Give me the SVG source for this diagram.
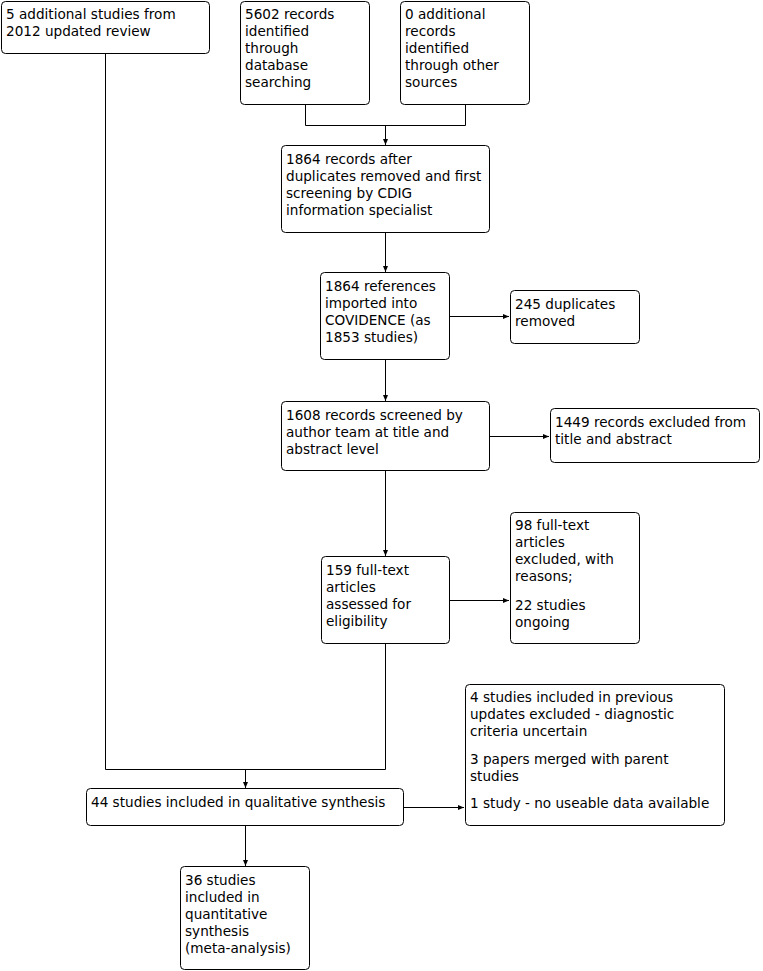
<svg xmlns="http://www.w3.org/2000/svg" width="763" height="971" viewBox="0 0 763 971">
<style>
rect{fill:#fff;stroke:#000;stroke-width:1}
text{font-family:"DejaVu Sans",Verdana,sans-serif;font-size:13.6px;fill:#000}
.c{fill:none;stroke:#000;stroke-width:1}
</style>
<defs>
<marker id="ah" markerUnits="userSpaceOnUse" markerWidth="7" markerHeight="6" refX="6" refY="2.5" orient="auto">
<path d="M0,0 L6,2.5 L0,5 z" fill="#000"/>
</marker>
</defs>
<g id="connectors">
<path class="c" d="M305.5,104 V125.5 H465.5 V104"/>
<path class="c" d="M385.5,125.5 V145" marker-end="url(#ah)"/>
<path class="c" d="M385.5,232 V272" marker-end="url(#ah)"/>
<path class="c" d="M449,316.5 H509" marker-end="url(#ah)"/>
<path class="c" d="M385.5,360 V401" marker-end="url(#ah)"/>
<path class="c" d="M489,436.5 H549" marker-end="url(#ah)"/>
<path class="c" d="M385.5,471 V556" marker-end="url(#ah)"/>
<path class="c" d="M449,600.5 H509" marker-end="url(#ah)"/>
<path class="c" d="M385.5,643 V769.5 H105.5 V53"/>
<path class="c" d="M245.5,769.5 V788" marker-end="url(#ah)"/>
<path class="c" d="M403,807.5 H464" marker-end="url(#ah)"/>
<path class="c" d="M245.5,825 V866" marker-end="url(#ah)"/>
</g>
<g id="nA"><rect x="1.5" y="1.5" width="208" height="52" rx="4"/>
<text x="6" y="19"><tspan x="6">5 additional studies from</tspan><tspan x="6" dy="17">2012 updated review</tspan></text></g>
<g id="nB"><rect x="240.5" y="1.5" width="129" height="103" rx="4"/>
<text x="245" y="19"><tspan x="245">5602 records</tspan><tspan x="245" dy="17">identified</tspan><tspan x="245" dy="17">through</tspan><tspan x="245" dy="17">database</tspan><tspan x="245" dy="17">searching</tspan></text></g>
<g id="nC"><rect x="400.5" y="1.5" width="129" height="103" rx="4"/>
<text x="405" y="19"><tspan x="405">0 additional</tspan><tspan x="405" dy="17">records</tspan><tspan x="405" dy="17">identified</tspan><tspan x="405" dy="17">through other</tspan><tspan x="405" dy="17">sources</tspan></text></g>
<g id="nD"><rect x="281.5" y="145.5" width="208" height="87" rx="4"/>
<text x="286" y="163.5"><tspan x="286">1864 records after</tspan><tspan x="286" dy="17">duplicates removed and first</tspan><tspan x="286" dy="17">screening by CDIG</tspan><tspan x="286" dy="17">information specialist</tspan></text></g>
<g id="nE"><rect x="320.5" y="272.5" width="129" height="87" rx="4"/>
<text x="325" y="290.5"><tspan x="325">1864 references</tspan><tspan x="325" dy="17">imported into</tspan><tspan x="325" dy="17">COVIDENCE (as</tspan><tspan x="325" dy="17">1853 studies)</tspan></text></g>
<g id="nF"><rect x="510.5" y="290.5" width="129" height="53" rx="4"/>
<text x="515" y="308.5"><tspan x="515">245 duplicates</tspan><tspan x="515" dy="17">removed</tspan></text></g>
<g id="nG"><rect x="281.5" y="401.5" width="208" height="69" rx="4"/>
<text x="286" y="419.5"><tspan x="286">1608 records screened by</tspan><tspan x="286" dy="17">author team at title and</tspan><tspan x="286" dy="17">abstract level</tspan></text></g>
<g id="nH"><rect x="550.5" y="408.5" width="209" height="54" rx="4"/>
<text x="555" y="426.5"><tspan x="555">1449 records excluded from</tspan><tspan x="555" dy="17">title and abstract</tspan></text></g>
<g id="nI"><rect x="321.5" y="556.5" width="128" height="87" rx="4"/>
<text x="326" y="574.5"><tspan x="326">159 full-text</tspan><tspan x="326" dy="17">articles</tspan><tspan x="326" dy="17">assessed for</tspan><tspan x="326" dy="17">eligibility</tspan></text></g>
<g id="nJ"><rect x="510.5" y="512.5" width="129" height="131" rx="4"/>
<text x="515" y="530"><tspan x="515">98 full-text</tspan><tspan x="515" dy="17">articles</tspan><tspan x="515" dy="17">excluded, with</tspan><tspan x="515" dy="17">reasons;</tspan><tspan x="515" dy="28.5">22 studies</tspan><tspan x="515" dy="17">ongoing</tspan></text></g>
<g id="nK"><rect x="465.5" y="684.5" width="259" height="141" rx="4"/>
<text x="470" y="701.5"><tspan x="470">4 studies included in previous</tspan><tspan x="470" dy="17">updates excluded - diagnostic</tspan><tspan x="470" dy="17">criteria uncertain</tspan><tspan x="470" dy="28">3 papers merged with parent</tspan><tspan x="470" dy="17">studies</tspan><tspan x="470" dy="27">1 study - no useable data available</tspan></text></g>
<g id="nL"><rect x="86.5" y="788.5" width="317" height="37" rx="4"/>
<text x="91" y="806.5">44 studies included in qualitative synthesis</text></g>
<g id="nM"><rect x="180.5" y="866.5" width="129" height="103" rx="4"/>
<text x="185" y="884.5"><tspan x="185">36 studies</tspan><tspan x="185" dy="17">included in</tspan><tspan x="185" dy="17">quantitative</tspan><tspan x="185" dy="17">synthesis</tspan><tspan x="185" dy="17">(meta-analysis)</tspan></text></g>
</svg>
